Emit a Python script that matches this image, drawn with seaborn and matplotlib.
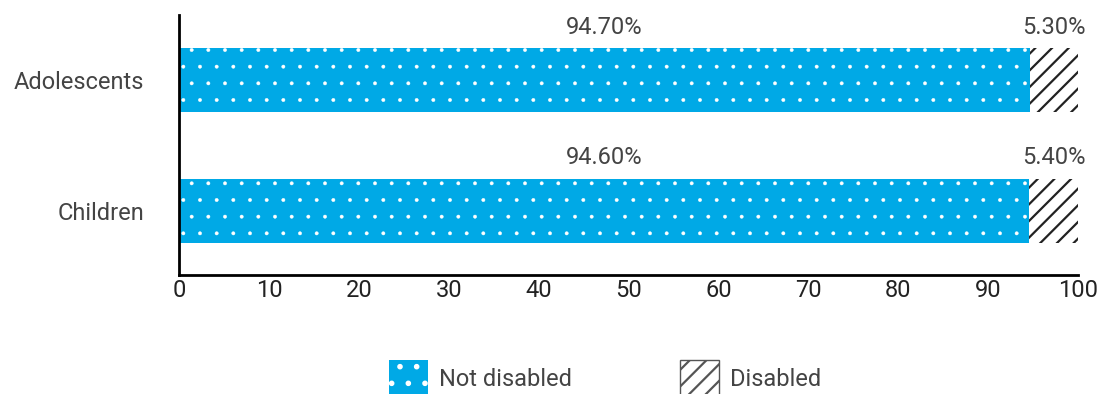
import matplotlib
matplotlib.use("Agg")
import matplotlib.pyplot as plt
from matplotlib.patches import Patch
import pandas as pd
import seaborn as sns

groups = ["Adolescents", "Children"]
not_disabled = [94.7, 94.6]
disabled = [5.3, 5.4]
x_ticks = [0, 10, 20, 30, 40, 50, 60, 70, 80, 90, 100]

BLUE = "#00A9E6"
TEXT = "#444444"
FS = 17

sns.set_theme(style="white")
plt.rcParams["font.family"] = ["Roboto", "DejaVu Sans"]
plt.rcParams["hatch.linewidth"] = 1.6


def hatch_width(patch, lw):
    if hasattr(patch, "set_hatch_linewidth"):
        patch.set_hatch_linewidth(lw)
    else:
        patch._hatch_linewidth = lw


df = pd.DataFrame({
    "group": groups,
    "not_disabled": not_disabled,
    "disabled": disabled,
})
df["total"] = df["not_disabled"] + df["disabled"]

fig = plt.figure(figsize=(11.01, 3.94), dpi=100)
ax = fig.add_axes([179 / 1101, 1 - 275 / 394, (1078 - 179) / 1101, (275 - 15) / 394])

# full-length bar carries the hatched "Disabled" share
sns.barplot(data=df, x="total", y="group", orient="h", color="white",
            edgecolor="#222222", linewidth=0, hatch="//", width=0.49,
            saturation=1, ax=ax)
n_back = len(ax.patches)
# dotted "Not disabled" share drawn on top
sns.barplot(data=df, x="not_disabled", y="group", orient="h", color=BLUE,
            edgecolor="white", linewidth=0, hatch=".", width=0.49,
            saturation=1, ax=ax)
for p in ax.patches[:n_back]:
    p.set_hatch("//")
    p.set_edgecolor("#222222")
    p.set_linewidth(0)
    hatch_width(p, 1.6)
for p in ax.patches[n_back:]:
    p.set_hatch(".")
    p.set_edgecolor("white")
    p.set_linewidth(0)
    hatch_width(p, 0.3)

# value labels centred over each segment
for i, (nd, d) in enumerate(zip(not_disabled, disabled)):
    ax.annotate(f"{nd:.2f}%", xy=(nd / 2, i - 0.245), xytext=(0, 7),
                textcoords="offset points", ha="center", va="bottom",
                fontsize=FS, color=TEXT)
    ax.annotate(f"{d:.2f}%", xy=(nd + d / 2, i - 0.245), xytext=(0, 7),
                textcoords="offset points", ha="center", va="bottom",
                fontsize=FS, color=TEXT)

ax.set_xlim(0, 100)
ax.set_ylim(1.49, -0.5)
ax.set_xticks(x_ticks)
ax.set_xlabel("")
ax.set_ylabel("")
ax.tick_params(axis="x", direction="in", length=6, width=1.5, colors="black",
               labelcolor="#222222", labelsize=FS, pad=3)
ax.tick_params(axis="y", length=0, labelsize=FS, labelcolor=TEXT, pad=25)

sns.despine(ax=ax, top=True, right=True)
for side in ("left", "bottom"):
    ax.spines[side].set_color("black")
    ax.spines[side].set_linewidth(2)

h_dots = Patch(facecolor=BLUE, edgecolor="white", linewidth=0, hatch=".",
               label="Not disabled")
h_lines = Patch(facecolor="white", edgecolor="#555555", linewidth=1, hatch="//",
                label="Disabled")
hatch_width(h_dots, 0.3)
hatch_width(h_lines, 1.6)
leg = fig.legend(handles=[h_dots, h_lines], loc="lower center",
                 bbox_to_anchor=(605 / 1101, -0.036), ncol=2, frameon=False,
                 fontsize=FS, handlelength=1.65, handleheight=2.0,
                 handletextpad=0.45, columnspacing=4.6, borderpad=0.0)
for t in leg.get_texts():
    t.set_color(TEXT)

fig.savefig("out.png", dpi=100)
